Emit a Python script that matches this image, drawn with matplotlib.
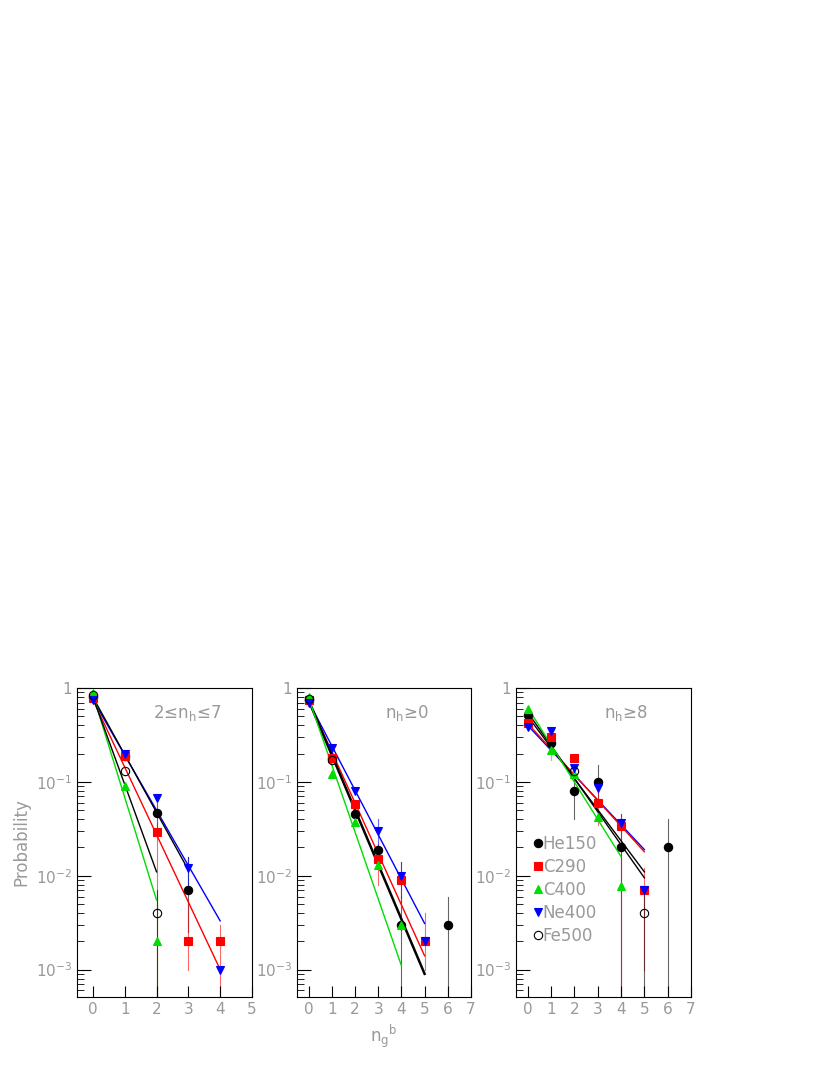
import matplotlib
matplotlib.use("Agg")
import matplotlib.pyplot as plt
import numpy as np

W, H = 830, 1075
series = ["He150", "C290", "C400", "Ne400", "Fe500"]
colors = {"He150": "black", "C290": "red", "C400": "#00dd00", "Ne400": "blue", "Fe500": "black"}
markers = {"He150": "o", "C290": "s", "C400": "^", "Ne400": "v", "Fe500": "o"}
titles = ["2≤n$_{\\rm h}$≤7", "n$_{\\rm h}$≥0", "n$_{\\rm h}$≥8"]

# panel data: {series: (x list, y list)}
p1 = {
    "He150": ([0, 1, 2, 3], [0.80, 0.19, 0.047, 0.007]),
    "C290": ([0, 1, 2, 3, 4], [0.78, 0.19, 0.029, 0.002, 0.002]),
    "C400": ([0, 1, 2], [0.88, 0.09, 0.002]),
    "Ne400": ([0, 1, 2, 3, 4], [0.75, 0.20, 0.068, 0.012, 0.001]),
    "Fe500": ([0, 1, 2], [0.85, 0.13, 0.004]),
}
p2 = {
    "He150": ([0, 1, 2, 3, 4, 6], [0.75, 0.18, 0.045, 0.019, 0.003, 0.003]),
    "C290": ([0, 1, 2, 3, 4, 5], [0.74, 0.18, 0.058, 0.015, 0.009, 0.002]),
    "C400": ([0, 1, 2, 3, 4], [0.80, 0.12, 0.037, 0.013, 0.003]),
    "Ne400": ([0, 1, 2, 3, 4, 5], [0.70, 0.23, 0.080, 0.030, 0.010, 0.002]),
    "Fe500": ([0, 1], [0.76, 0.17]),
}
p3 = {
    "He150": ([0, 1, 2, 3, 4, 6], [0.52, 0.26, 0.080, 0.100, 0.020, 0.020]),
    "C290": ([0, 1, 2, 3, 4, 5], [0.42, 0.30, 0.180, 0.060, 0.034, 0.007]),
    "C400": ([0, 1, 2, 3, 4], [0.60, 0.22, 0.120, 0.042, 0.0078]),
    "Ne400": ([0, 1, 2, 3, 4, 5], [0.38, 0.35, 0.140, 0.085, 0.036, 0.007]),
    "Fe500": ([2, 5], [0.13, 0.004]),
}
# error bars: (series, x, low, high)
e1 = [("He150", 2, 0.030, 0.060), ("He150", 3, 0.0025, 0.016),
      ("C290", 2, 0.0005, 0.036), ("C290", 3, 0.001, 0.0055), ("C290", 4, 0.0005, 0.003),
      ("C400", 2, 0.0005, 0.0065), ("Fe500", 2, 0.0005, 0.007), ("Ne400", 3, 0.008, 0.016)]
e2 = [("He150", 4, 0.0005, 0.006), ("He150", 6, 0.0005, 0.006),
      ("C290", 3, 0.008, 0.022), ("C290", 4, 0.005, 0.014), ("C290", 5, 0.001, 0.004),
      ("Ne400", 3, 0.02, 0.04), ("Ne400", 4, 0.006, 0.014)]
e3 = [("He150", 2, 0.04, 0.12), ("He150", 3, 0.06, 0.15), ("He150", 4, 0.0005, 0.045),
      ("He150", 6, 0.0005, 0.04), ("C290", 4, 0.0005, 0.045), ("C290", 5, 0.001, 0.012),
      ("C290", 3, 0.035, 0.08), ("Fe500", 5, 0.0005, 0.007), ("C400", 1, 0.17, 0.27)]
# fit lines: (series, x_end, y0, y_end, linewidth)
f1 = [("Ne400", 4, 0.75, 0.0033, 1.0), ("He150", 3, 0.80, 0.0115, 1.0), ("C290", 4, 0.75, 0.001, 1.0),
      ("C400", 2, 0.85, 0.0055, 1.0), ("Fe500", 2, 0.80, 0.011, 1.0)]
f2 = [("Ne400", 5, 0.72, 0.0031, 1.0), ("C290", 5, 0.73, 0.0014, 1.0), ("He150", 5, 0.74, 0.0009, 1.8),
      ("C400", 4, 0.78, 0.0011, 1.0)]
f3 = [("Ne400", 5, 0.40, 0.019, 1.0), ("C290", 5, 0.42, 0.018, 1.0), ("He150", 5, 0.55, 0.0095, 1.0),
      ("Fe500", 5, 0.50, 0.011, 1.0), ("C400", 4, 0.62, 0.016, 1.0)]
xticks = [[0, 1, 2, 3, 4, 5], [0, 1, 2, 3, 4, 5, 6, 7], [0, 1, 2, 3, 4, 5, 6, 7]]
xlims = [(-0.5, 5), (-0.5, 7), (-0.5, 7)]

gray = "#999999"
fig = plt.figure(figsize=(W / 100, H / 100), dpi=100)
boxes = [(77, 252), (297, 471), (516, 691)]
top, bot = 688, 997
datas = [p1, p2, p3]
errs = [e1, e2, e3]
fits = [f1, f2, f3]
for i in range(3):
    l, r = boxes[i]
    ax = fig.add_axes([l / W, 1 - bot / H, (r - l) / W, (bot - top) / H])
    ax.set_yscale("log")
    ax.set_ylim(5.1e-4, 1.0)
    ax.set_xlim(*xlims[i])
    for s, xe, y0, y1, lw in fits[i]:
        ax.plot([0, xe], [y0, y1], color=colors[s], lw=lw, zorder=2)
    for s, x, lo, hi in errs[i]:
        ax.plot([x, x], [lo, hi], color=colors[s], lw=0.8, alpha=0.6, zorder=1)
    for s in series:
        xs, ys = datas[i][s]
        fc = "none" if s == "Fe500" else colors[s]
        ax.plot(xs, ys, ls="none", marker=markers[s], ms=6, mfc=fc, mec=colors[s],
                mew=0.8, zorder=3, label=s)
    ax.set_xticks(xticks[i])
    ax.tick_params(axis="both", which="both", direction="in", labelcolor=gray, labelsize=11)
    ax.tick_params(axis="y", which="major", length=10)
    ax.tick_params(axis="y", which="minor", length=5)
    ax.tick_params(axis="x", length=8)
    ax.set_yticks([1e-3, 1e-2, 1e-1, 1])
    ax.set_yticklabels(["10$^{-3}$", "10$^{-2}$", "10$^{-1}$", "1"])
    ax.text(0.63, 0.92, titles[i], transform=ax.transAxes, ha="center", va="center",
            color=gray, fontsize=12)
    if i == 0:
        ax.set_ylabel("Probability", color=gray, fontsize=12)
    if i == 1:
        ax.set_xlabel("n$_{\\rm g}$$^{\\rm b}$", color=gray, fontsize=12)
    if i == 2:
        ax.legend(loc="lower left", bbox_to_anchor=(0.02, 0.12), frameon=False,
                  handlelength=0.4, handletextpad=0.1, labelspacing=0.3, fontsize=12,
                  labelcolor=gray)
fig.savefig("out.png", dpi=100)
